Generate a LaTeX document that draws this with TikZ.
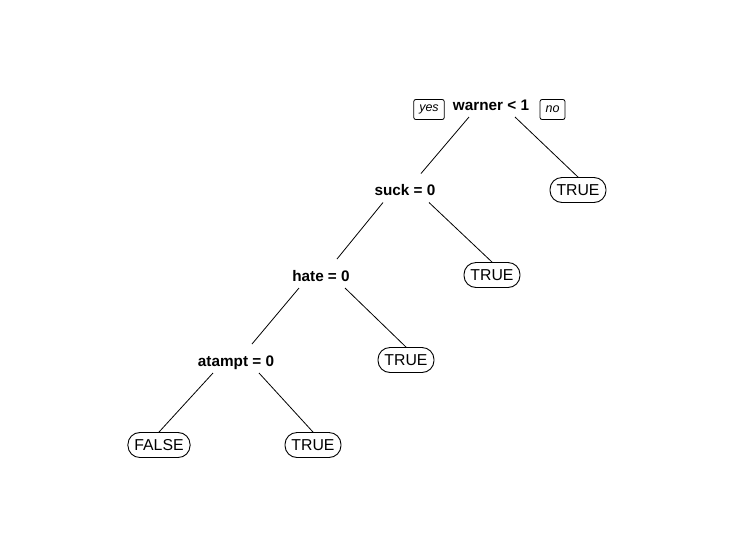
\documentclass[tikz,border=0pt]{standalone}
\usepackage{fontspec}
\setmainfont{Liberation Sans}
\usetikzlibrary{shapes.misc}

\tikzset{
  split/.style={font=\fontsize{15.3}{18}\selectfont\bfseries, inner sep=0pt, anchor=base},
  leaf/.style={draw, line width=0.9pt, rounded corners=12pt, font=\fontsize{15.8}{18}\selectfont,
    inner xsep=6.5pt, inner ysep=0pt, minimum height=25pt},
  answer/.style={draw, line width=0.8pt, rounded corners=2pt, font=\fontsize{12.5}{14}\selectfont\itshape,
    inner xsep=5.5pt, inner ysep=0pt, minimum height=20pt},
  branch/.style={line width=0.8pt}
}

\begin{document}
\begin{tikzpicture}[x=1pt, y=-1pt]
	\useasboundingbox (0,0) rectangle (734,550);

	% splits
	\node[split] (root) at (491,110) {warner < 1};
	\node[split] (suck) at (405,195.5) {suck = 0};
	\node[split] (hate) at (321,281) {hate = 0};
	\node[split] (atampt) at (236,366) {atampt = 0};

	\node[answer] (yes) at (429,109.5) {yes};
	\node[answer] (no) at (552.5,109.5) {no};

	% leaves
	\node[leaf] (leafa) at (578,190) {TRUE};
	\node[leaf] (leafb) at (492,275) {TRUE};
	\node[leaf] (leafc) at (406,360) {TRUE};
	\node[leaf] (leafd) at (159,445) {FALSE};
	\node[leaf] (leafe) at (313,445) {TRUE};

	\draw[branch] ([shift={(-22,7)}]root.base) -- ([shift={(16,-22)}]suck.base);
	\draw[branch] ([shift={(24,7)}]root.base) -- (leafa.north);
	\draw[branch] ([shift={(-22,7)}]suck.base) -- ([shift={(16,-22)}]hate.base);
	\draw[branch] ([shift={(24,7)}]suck.base) -- (leafb.north);
	\draw[branch] ([shift={(-22,7)}]hate.base) -- ([shift={(16,-22)}]atampt.base);
	\draw[branch] ([shift={(24,7)}]hate.base) -- (leafc.north);
	\draw[branch] ([shift={(-23,7)}]atampt.base) -- (leafd.north);
	\draw[branch] ([shift={(23,7)}]atampt.base) -- (leafe.north);
\end{tikzpicture}
\end{document}
